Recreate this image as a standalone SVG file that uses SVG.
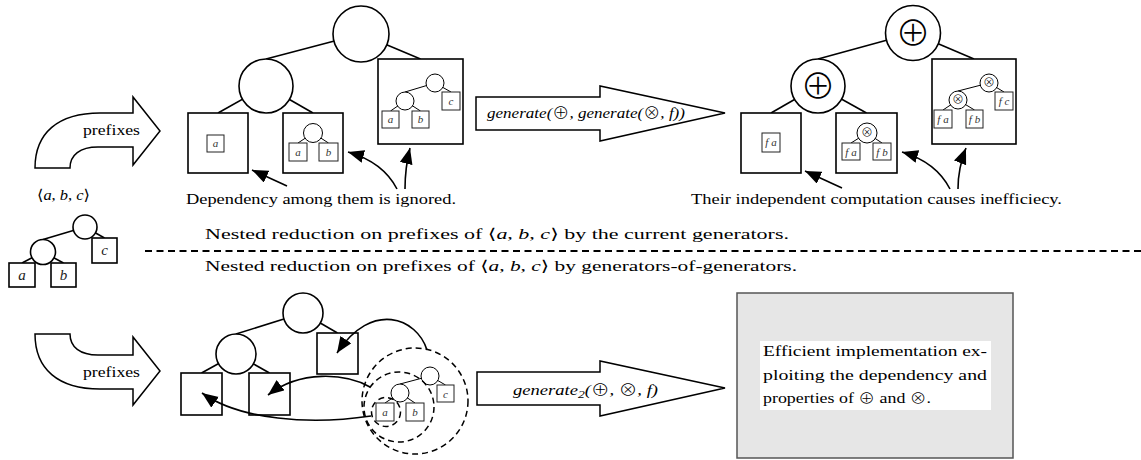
<svg xmlns="http://www.w3.org/2000/svg" width="1141" height="460" viewBox="0 0 1141 460">
  <style>
    .n { fill: #fff; stroke: #000; stroke-width: 1.6; }
    .m { fill: #fff; stroke: #000; stroke-width: 1; }
    .mb { fill: #fff; stroke: #222; stroke-width: 1; }
    .e { stroke: #000; stroke-width: 1.6; fill: none; }
    .em { stroke: #000; stroke-width: 1; fill: none; }
    .blk { fill: #fff; stroke: #000; stroke-width: 1.5; stroke-linejoin: miter; }
    .arr { stroke: #000; stroke-width: 1.6; fill: none; marker-end: url(#tip); }
    .ring { fill: none; stroke: #000; stroke-width: 1.5; stroke-dasharray: 6 4; }
    .txt { font-family: "Liberation Serif", "DejaVu Serif", serif; font-size: 15px; fill: #000; }
    .it { font-style: italic; }
    .lbl { font-family: "Liberation Serif", "DejaVu Serif", serif; font-style: italic; font-size: 11px; fill: #333; text-anchor: middle; }
    .lbl2 { font-family: "Liberation Serif", "DejaVu Serif", serif; font-style: italic; font-size: 15px; fill: #222; text-anchor: middle; }
    .op { font-family: "Noto Sans CJK JP", "DejaVu Sans", sans-serif; font-weight: 300; text-anchor: middle; fill: #000; }
    .sym { font-family: "Noto Sans CJK JP", "DejaVu Sans", sans-serif; font-style: normal; font-weight: 300; }
  </style>
  <defs>
    <marker id="tip" markerUnits="userSpaceOnUse" markerWidth="17" markerHeight="14" refX="16" refY="6.5" orient="auto">
      <path d="M0,0 L16,6.5 L0,13 Z" fill="#000"/>
    </marker>
  </defs>

  <!-- ===== upper half: nested reduction by the current generators ===== -->

  <!-- curved "prefixes" block arrow -->
  <g id="prefixes-top">
    <path class="blk" d="M35,168 C35,133 58,113 100,113 L133,113 L133,97 L160,131 L133,165 L133,147 L98,147 C80,147 70,155 70,168 Z"/>
    <text class="txt" x="83" y="135" font-size="16" textLength="57" lengthAdjust="spacingAndGlyphs">prefixes</text>
  </g>

  <!-- input list -->
  <g id="input-list">
    <text class="txt" x="37" y="200" font-size="16" textLength="53" lengthAdjust="spacingAndGlyphs">⟨<tspan class="it">a</tspan>, <tspan class="it">b</tspan>, <tspan class="it">c</tspan>⟩</text>
  </g>

  <!-- small input tree -->
  <g id="input-tree">
    <line class="e" x1="43" y1="239.5" x2="85" y2="227"/>
    <line class="e" x1="104.5" y1="238" x2="85" y2="227"/>
    <line class="e" x1="22" y1="263" x2="43" y2="252"/>
    <line class="e" x1="63.5" y1="263" x2="43" y2="252"/>
    <circle class="n" cx="85" cy="227" r="12"/>
    <circle class="n" cx="43" cy="252" r="12.5"/>
    <rect class="n" x="9" y="263" width="26" height="24"/>
    <rect class="n" x="51" y="263" width="25" height="24"/>
    <rect class="n" x="92" y="238" width="25" height="25"/>
    <text class="lbl2" x="22" y="280">a</text>
    <text class="lbl2" x="63.5" y="280">b</text>
    <text class="lbl2" x="104.5" y="255">c</text>
  </g>

  <!-- tree of prefixes (before) -->
  <g id="tree-prefixes">
    <line class="e" x1="266" y1="59" x2="361" y2="34"/>
    <line class="e" x1="420.5" y1="59" x2="361" y2="34"/>
    <line class="e" x1="218" y1="113" x2="266" y2="86"/>
    <line class="e" x1="313" y1="113" x2="266" y2="86"/>
    <circle class="n" cx="361" cy="34" r="28"/>
    <circle class="n" cx="266" cy="86" r="27"/>
  </g>
  <g id="prefix-a">
    <rect class="n" x="188" y="113" width="60" height="60"/>
    <rect class="mb" x="207" y="135" width="17" height="17"/>
    <text class="lbl" x="215.5" y="147">a</text>
  </g>
  <g id="prefix-ab">
    <rect class="n" x="283" y="113" width="60" height="60"/>
    <line class="em" x1="298" y1="143" x2="313" y2="133"/>
    <line class="em" x1="328.5" y1="143" x2="313" y2="133"/>
    <circle class="m" cx="313" cy="133" r="9.5"/>
    <rect class="mb" x="289" y="143" width="18" height="18"/>
    <rect class="mb" x="319" y="143" width="19" height="18"/>
    <text class="lbl" x="298" y="156">a</text>
    <text class="lbl" x="328.5" y="156">b</text>
  </g>
  <g id="prefix-abc">
    <rect class="n" x="378" y="59" width="85" height="85"/>
    <line class="em" x1="405" y1="92" x2="435" y2="83"/>
    <line class="em" x1="451" y1="92" x2="435" y2="83"/>
    <line class="em" x1="390.5" y1="111" x2="405" y2="101"/>
    <line class="em" x1="420.5" y1="111" x2="405" y2="101"/>
    <circle class="m" cx="435" cy="83" r="9"/>
    <circle class="m" cx="405" cy="101" r="9"/>
    <rect class="mb" x="382" y="111" width="17" height="17"/>
    <rect class="mb" x="412" y="111" width="17" height="17"/>
    <rect class="mb" x="442" y="92" width="18" height="18"/>
    <text class="lbl" x="390.5" y="123">a</text>
    <text class="lbl" x="420.5" y="123">b</text>
    <text class="lbl" x="451" y="105">c</text>
  </g>

  <!-- generate(+, generate(x, f)) block arrow -->
  <g id="generate-top">
    <path class="blk" d="M476,97 L600,97 L600,86 L725,113 L600,141 L600,130 L476,130 Z"/>
    <text class="txt it" x="487" y="118" font-size="16" textLength="198" lengthAdjust="spacingAndGlyphs">generate(<tspan class="sym">⊕</tspan>, generate(<tspan class="sym">⊗</tspan>, f))</text>
  </g>

  <!-- tree of results (after) -->
  <g id="tree-results">
    <line class="e" x1="818" y1="59" x2="913" y2="33"/>
    <line class="e" x1="974" y1="59" x2="913" y2="33"/>
    <line class="e" x1="771" y1="113" x2="818" y2="86"/>
    <line class="e" x1="866.5" y1="113" x2="818" y2="86"/>
    <circle class="n" cx="913" cy="33" r="27.5"/>
    <circle class="n" cx="818" cy="86" r="27"/>
    <text class="op" x="913" y="45.5" font-size="35">⊕</text>
    <text class="op" x="818" y="98.5" font-size="35">⊕</text>
  </g>
  <g id="result-a">
    <rect class="n" x="741" y="113" width="60" height="60"/>
    <rect class="mb" x="762" y="133" width="18" height="19"/>
    <text class="lbl" x="771" y="146">f a</text>
  </g>
  <g id="result-ab">
    <rect class="n" x="836" y="113" width="61" height="60"/>
    <line class="em" x1="851" y1="143" x2="867" y2="133"/>
    <line class="em" x1="882" y1="143" x2="867" y2="133"/>
    <circle class="m" cx="867" cy="133" r="10"/>
    <text class="op" x="867" y="137.2" font-size="12" fill="#555">⊗</text>
    <rect class="mb" x="842" y="143" width="18" height="17"/>
    <rect class="mb" x="873" y="143" width="18" height="17"/>
    <text class="lbl" x="851" y="155.5">f a</text>
    <text class="lbl" x="882" y="155.5">f b</text>
  </g>
  <g id="result-abc">
    <rect class="n" x="932" y="59" width="84" height="85"/>
    <line class="em" x1="958" y1="91" x2="989" y2="83"/>
    <line class="em" x1="1004" y1="92" x2="989" y2="83"/>
    <line class="em" x1="943" y1="110" x2="958" y2="100"/>
    <line class="em" x1="974.5" y1="110" x2="958" y2="100"/>
    <circle class="m" cx="989" cy="83" r="9"/>
    <circle class="m" cx="958" cy="100" r="9"/>
    <text class="op" x="989" y="87.2" font-size="12" fill="#555">⊗</text>
    <text class="op" x="958" y="104.2" font-size="12" fill="#555">⊗</text>
    <rect class="mb" x="934" y="110" width="18" height="18"/>
    <rect class="mb" x="966" y="110" width="17" height="18"/>
    <rect class="mb" x="995" y="92" width="18" height="18"/>
    <text class="lbl" x="943" y="123">f a</text>
    <text class="lbl" x="974.5" y="123">f b</text>
    <text class="lbl" x="1004" y="105">f c</text>
  </g>

  <!-- annotations of the upper half -->
  <g id="note-ignored">
    <text class="txt" x="186" y="204" textLength="270" lengthAdjust="spacingAndGlyphs">Dependency among them is ignored.</text>
  </g>
  <g id="note-inefficient">
    <text class="txt" x="691" y="204" textLength="371" lengthAdjust="spacingAndGlyphs">Their independent computation causes inefficiecy.</text>
  </g>

  <!-- separator and captions -->
  <g id="captions">
    <line x1="145" y1="251" x2="1141" y2="251" stroke="#000" stroke-width="2" stroke-dasharray="7 4.5"/>
    <text class="txt" x="205" y="239" font-size="17" textLength="584" lengthAdjust="spacingAndGlyphs">Nested reduction on prefixes of ⟨<tspan class="it">a</tspan>, <tspan class="it">b</tspan>, <tspan class="it">c</tspan>⟩ by the current generators.</text>
    <text class="txt" x="205" y="271" font-size="17" textLength="592" lengthAdjust="spacingAndGlyphs">Nested reduction on prefixes of ⟨<tspan class="it">a</tspan>, <tspan class="it">b</tspan>, <tspan class="it">c</tspan>⟩ by generators-of-generators.</text>
  </g>

  <!-- ===== lower half: nested reduction by generators-of-generators ===== -->

  <g id="prefixes-bottom">
    <path class="blk" transform="translate(0,502) scale(1,-1)" d="M35,168 C35,133 58,113 100,113 L133,113 L133,97 L160,131 L133,165 L133,147 L98,147 C80,147 70,155 70,168 Z"/>
    <text class="txt" x="83" y="377" font-size="16" textLength="57" lengthAdjust="spacingAndGlyphs">prefixes</text>
  </g>

  <g id="tree-shared">
    <line class="e" x1="236" y1="334" x2="303" y2="313"/>
    <line class="e" x1="337.5" y1="333" x2="303" y2="313"/>
    <line class="e" x1="201.5" y1="373" x2="236" y2="354"/>
    <line class="e" x1="269.5" y1="373" x2="236" y2="354"/>
    <circle class="n" cx="303" cy="313" r="20"/>
    <circle class="n" cx="236" cy="354" r="20"/>
  </g>
  <g id="slot-a">
    <rect class="n" x="181" y="373" width="41" height="42"/>
  </g>
  <g id="slot-ab">
    <rect class="n" x="249" y="373" width="41" height="42"/>
  </g>
  <g id="slot-abc">
    <rect class="n" x="317" y="333" width="41" height="41"/>
  </g>

  <!-- single tree with nested prefix regions -->
  <g id="whole-tree">
    <line class="em" x1="400" y1="384" x2="430" y2="376"/>
    <line class="em" x1="445.5" y1="385" x2="430" y2="376"/>
    <line class="em" x1="385" y1="403" x2="400" y2="393"/>
    <line class="em" x1="415" y1="403" x2="400" y2="393"/>
    <circle class="m" cx="430" cy="376" r="9"/>
    <circle class="m" cx="400" cy="393" r="9"/>
    <rect class="mb" x="376" y="403" width="18" height="18"/>
    <rect class="mb" x="406" y="403" width="18" height="18"/>
    <rect class="mb" x="437" y="385" width="17" height="17"/>
    <text class="lbl" x="385" y="416">a</text>
    <text class="lbl" x="415" y="416">b</text>
    <text class="lbl" x="445.5" y="397.5">c</text>
    <circle class="ring" cx="386" cy="412" r="14.5"/>
    <circle class="ring" cx="399" cy="407" r="35"/>
    <circle class="ring" cx="415" cy="401" r="53"/>
  </g>

  <g id="connectors">
    <path class="arr" d="M287,186 L252,170"/>
    <path class="arr" d="M397,189 Q383,162 348,152"/>
    <path class="arr" d="M405,189 Q405,168 410,148"/>
    <path class="arr" d="M842,188 L805,171"/>
    <path class="arr" d="M950,189 Q936,162 902,152"/>
    <path class="arr" d="M958,189 Q958,168 966,148"/>
    <path class="arr" d="M427,350 C417,318 372,300 337,353"/>
    <path class="arr" d="M370,387 C345,373 300,370 268,395"/>
    <path class="arr" d="M371,416 C310,425 240,420 202,393"/>
  </g>

  <!-- generate2(+, x, f) block arrow -->
  <g id="generate-bottom">
    <path class="blk" d="M477,372 L600,372 L600,361 L725,388 L600,416 L600,405 L477,405 Z"/>
    <text class="txt it" x="513" y="395" font-size="16" textLength="145" lengthAdjust="spacingAndGlyphs">generate<tspan font-size="11" dy="3">2</tspan><tspan dy="-3">(</tspan><tspan class="sym">⊕</tspan>, <tspan class="sym">⊗</tspan>, f)</text>
  </g>

  <!-- efficient implementation result -->
  <g id="efficient">
    <rect x="737" y="293" width="276" height="165" fill="#e6e6e6" stroke="#555" stroke-width="1.5"/>
    <rect x="760" y="341" width="231" height="69" fill="#fff"/>
    <text class="txt" x="763" y="356" font-size="16" textLength="224" lengthAdjust="spacingAndGlyphs">Efficient implementation ex-</text>
    <text class="txt" x="763" y="380" font-size="16" textLength="224" lengthAdjust="spacingAndGlyphs">ploiting the dependency and</text>
    <text class="txt" x="763" y="403" font-size="16" textLength="168" lengthAdjust="spacingAndGlyphs">properties of <tspan class="sym" font-size="14">⊕</tspan> and <tspan class="sym" font-size="14">⊗</tspan>.</text>
  </g>
</svg>
